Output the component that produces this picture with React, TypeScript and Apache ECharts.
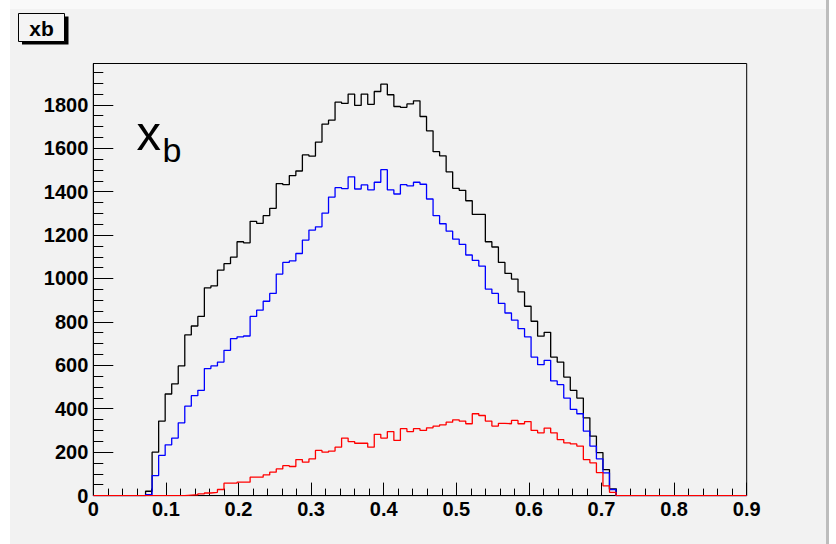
import React, { useEffect, useRef } from "react";
import * as echarts from "echarts";

// Histogram "xb": 100 bins on [0, 0.9]
const X_MIN = 0;
const X_MAX = 0.9;
const BIN_COUNT = 100;
const Y_MAX = 1990;

const xTickLabels = ["0", "0.1", "0.2", "0.3", "0.4", "0.5", "0.6", "0.7", "0.8", "0.9"];
const yTickValues = [0, 200, 400, 600, 800, 1000, 1200, 1400, 1600, 1800];
const yMinorTickValues = [
  0, 50, 100, 150, 200, 250, 300, 350, 400, 450, 500, 550, 600, 650, 700, 750, 800, 850, 900, 950,
  1000, 1050, 1100, 1150, 1200, 1250, 1300, 1350, 1400, 1450, 1500, 1550, 1600, 1650, 1700, 1750,
  1800, 1850, 1900, 1950,
];

const blackCounts = [
  0, 0, 0, 0, 0, 0, 0, 0, 20, 200,
  343, 468, 515, 597, 740, 781, 825, 957, 966, 1038,
  1068, 1098, 1169, 1164, 1263, 1254, 1289, 1323, 1437, 1432,
  1474, 1495, 1569, 1563, 1628, 1711, 1729, 1812, 1806, 1849,
  1797, 1849, 1802, 1861, 1895, 1846, 1792, 1788, 1804, 1818,
  1746, 1680, 1584, 1565, 1491, 1415, 1406, 1358, 1295, 1295,
  1169, 1145, 1074, 1023, 997, 938, 872, 803, 734, 752,
  638, 615, 546, 485, 449, 358, 274, 198, 120, 31,
  0, 0, 0, 0, 0, 0, 0, 0, 0, 0,
  0, 0, 0, 0, 0, 0, 0, 0, 0, 0,
];

const blueCounts = [
  0, 0, 0, 0, 0, 0, 0, 0, 4, 92,
  185, 234, 265, 335, 412, 460, 485, 585, 597, 615,
  669, 723, 731, 735, 825, 854, 895, 931, 1020, 1074,
  1081, 1115, 1177, 1223, 1238, 1301, 1375, 1418, 1414, 1468,
  1412, 1431, 1408, 1443, 1501, 1408, 1389, 1432, 1426, 1443,
  1434, 1366, 1289, 1252, 1218, 1181, 1157, 1108, 1083, 1057,
  951, 931, 885, 841, 808, 769, 731, 638, 603, 623,
  528, 511, 449, 397, 377, 297, 228, 169, 105, 28,
  0, 0, 0, 0, 0, 0, 0, 0, 0, 0,
  0, 0, 0, 0, 0, 0, 0, 0, 0, 0,
];

const redCounts = [
  0, 0, 0, 0, 0, 0, 0, 0, 0, 0,
  0, 0, 0, 0, 2, 4, 8, 12, 15, 28,
  57, 57, 62, 62, 85, 85, 95, 108, 123, 138,
  134, 166, 154, 169, 208, 200, 205, 223, 265, 249,
  241, 241, 223, 282, 265, 295, 254, 308, 295, 308,
  300, 312, 320, 326, 338, 349, 343, 331, 377, 369,
  343, 320, 333, 331, 346, 331, 341, 300, 289, 311,
  289, 258, 243, 238, 228, 166, 151, 106, 45, 15,
  0, 0, 0, 0, 0, 0, 0, 0, 0, 0,
  0, 0, 0, 0, 0, 0, 0, 0, 0, 0,
];

const BIN_WIDTH = (X_MAX - X_MIN) / BIN_COUNT;

function stepData(counts: number[]): [number, number][] {
  const pts: [number, number][] = counts.map((c, i) => [X_MIN + i * BIN_WIDTH, c]);
  pts.push([X_MAX, counts[counts.length - 1]]);
  return pts;
}

const FONT = '"Liberation Sans", Arial, Helvetica, sans-serif';

export default function App() {
  const ref = useRef<HTMLDivElement>(null);

  useEffect(() => {
    if (!ref.current) return;
    const chart = echarts.init(ref.current, undefined, { renderer: "svg" });

    const lineSeries = (name: string, counts: number[], color: string) => ({
      name,
      type: "line",
      step: "end",
      data: stepData(counts),
      symbol: "none",
      showSymbol: false,
      silent: true,
      lineStyle: { color, width: 1.3 },
      itemStyle: { color },
    });

    chart.setOption({
      animation: false,
      backgroundColor: "#f2f2f2",
      grid: {
        left: 93.3,
        right: 89.3,
        top: 63.5,
        bottom: 48.4,
        show: true,
        borderColor: "#000",
        borderWidth: 1,
        backgroundColor: "transparent",
        containLabel: false,
      },
      xAxis: {
        type: "value",
        min: X_MIN,
        max: X_MAX,
        interval: 0.1,
        axisLine: { show: true, lineStyle: { color: "#000", width: 1 } },
        axisTick: { show: true, inside: true, length: 13, lineStyle: { color: "#000", width: 1 } },
        minorTick: { show: true, splitNumber: 5, length: 7, lineStyle: { color: "#000", width: 1 } },
        splitLine: { show: false },
        axisLabel: {
          show: true,
          margin: 3,
          color: "#000",
          fontSize: 20,
          fontWeight: "bold",
          fontFamily: FONT,
          formatter: (v: number) => xTickLabels[Math.round(v * 10)] ?? "",
        },
      },
      yAxis: [
        {
          type: "value",
          min: 0,
          max: Y_MAX,
          interval: 200,
          axisLine: { show: true, lineStyle: { color: "#000", width: 1 } },
          axisTick: {
            show: true,
            inside: true,
            length: 20,
            customValues: yTickValues,
            lineStyle: { color: "#000", width: 1 },
          },
          splitLine: { show: false },
          axisLabel: {
            show: true,
            margin: 5,
            color: "#000",
            fontSize: 20,
            fontWeight: "bold",
            fontFamily: FONT,
            customValues: yTickValues,
            formatter: (v: number) => String(Math.round(v)),
          },
        },
        {
          type: "value",
          min: 0,
          max: Y_MAX,
          interval: 50,
          position: "left",
          axisLine: { show: false },
          axisTick: {
            show: true,
            inside: true,
            length: 10,
            customValues: yMinorTickValues,
            lineStyle: { color: "#000", width: 1 },
          },
          splitLine: { show: false },
          axisLabel: { show: false },
        },
      ],
      series: [
        lineSeries("black", blackCounts, "#000000"),
        lineSeries("blue", blueCounts, "#0000ff"),
        lineSeries("red", redCounts, "#ff0000"),
      ],
      graphic: [
        { type: "rect", shape: { x: 0, y: 0, width: 836, height: 9 }, style: { fill: "#f9f9f9" }, silent: true },
        { type: "rect", shape: { x: 0, y: 0, width: 10, height: 544 }, style: { fill: "#ffffff" }, silent: true },
        { type: "rect", shape: { x: 826, y: 0, width: 3, height: 544 }, style: { fill: "#bdbdbd" }, silent: true },
        { type: "rect", shape: { x: 829, y: 0, width: 7, height: 544 }, style: { fill: "#ffffff" }, silent: true },
        { type: "rect", shape: { x: 22, y: 16.5, width: 46.5, height: 28 }, style: { fill: "#000" }, silent: true },
        {
          type: "rect",
          shape: { x: 18.5, y: 13.5, width: 46, height: 28 },
          style: { fill: "#f4f4f4", stroke: "#000", lineWidth: 1 },
          silent: true,
        },
        {
          type: "text",
          x: 41.5,
          y: 28.2,
          style: {
            text: "xb",
            fontSize: 21,
            fontWeight: "bold",
            fontFamily: FONT,
            fill: "#000",
            align: "center",
            verticalAlign: "middle",
          },
          silent: true,
        },
        {
          type: "text",
          x: 136.5,
          y: 133.2,
          style: {
            text: "x",
            fontSize: 49,
            fontFamily: FONT,
            fill: "#000",
            align: "left",
            verticalAlign: "middle",
          },
          silent: true,
        },
        {
          type: "text",
          x: 162.5,
          y: 150.4,
          style: {
            text: "b",
            fontSize: 34,
            fontFamily: FONT,
            fill: "#000",
            align: "left",
            verticalAlign: "middle",
          },
          silent: true,
        },
      ],
    });

    return () => chart.dispose();
  }, []);

  return (
    <div
      ref={ref}
      style={{ position: "fixed", left: 0, top: 0, width: 836, height: 544 }}
    />
  );
}
